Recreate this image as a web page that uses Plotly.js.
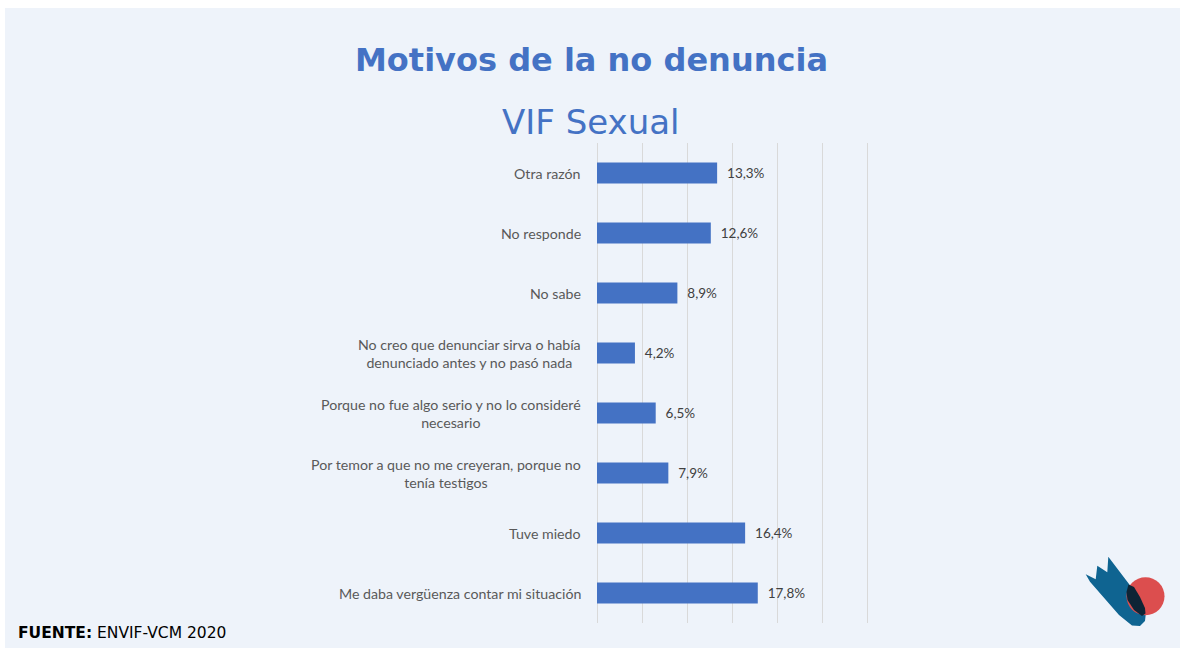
<!DOCTYPE html>
<html>
<head>
<meta charset="utf-8">
<script src="https://cdn.plot.ly/plotly-3.0.1.min.js"></script>
<style>
html,body{margin:0;padding:0;background:#fff;}
#chart{width:1181px;height:648px;}
</style>
</head>
<body>
<div id="chart"></div>
<script>
// Data (top to bottom as shown)
var categories = [
  "Otra razón",
  "No responde",
  "No sabe",
  "No creo que denunciar sirva o había<br>denunciado antes y no pasó nada",
  "Porque no fue algo serio y no lo consideré<br>necesario",
  "Por temor a que no me creyeran, porque no<br>tenía testigos",
  "Tuve miedo",
  "Me daba vergüenza contar mi situación"
];
var values = [13.3, 12.6, 8.9, 4.2, 6.5, 7.9, 16.4, 17.8];
var xTicks = [0, 5, 10, 15, 20, 25, 30];

var W = 1181, H = 648;
var PL = 597, PR = 877, PT = 143, PB = 623;
// convert page pixels to plot-area ("paper") fractions
function px(x){ return (x - PL) / (PR - PL); }
function py(y){ return (PB - y) / (PB - PT); }
function pathFrom(pts){
  return pts.map(function(p,i){ return (i===0?'M':'L') + px(p[0]).toFixed(5) + ',' + py(p[1]).toFixed(5); }).join(' ') + ' Z';
}

var trace = {
  type: 'bar',
  orientation: 'h',
  x: values,
  y: categories,
  width: 0.35,
  marker: {color: '#4472C4'},
  text: values,
  texttemplate: '\u00a0\u00a0%{x:.1f}%',
  textposition: 'outside',
  cliponaxis: false,
  textfont: {family: 'Lato, Carlito, sans-serif', size: 13.5, color: '#404040'},
  hoverinfo: 'none'
};

var annotations = [
  {text: '<b>Motivos de la no denuncia</b>', xref: 'paper', yref: 'paper', x: px(591), y: py(60), xanchor: 'center', yanchor: 'middle', showarrow: false,
   font: {family: 'DejaVu Sans, Verdana, sans-serif', size: 32, color: '#4472C4'}},
  {text: 'VIF Sexual', xref: 'paper', yref: 'paper', x: px(591), y: py(122), xanchor: 'center', yanchor: 'middle', showarrow: false,
   font: {family: 'DejaVu Sans, Verdana, sans-serif', size: 34, color: '#4472C4'}},
  {text: '<b>FUENTE:</b> ENVIF-VCM 2020', xref: 'paper', yref: 'paper', x: px(16), y: py(633), xanchor: 'left', yanchor: 'middle', showarrow: false,
   font: {family: 'DejaVu Sans, Verdana, sans-serif', size: 15.5, color: '#000000'}}
];
categories.forEach(function(c){
  annotations.push({
    text: c, xref: 'paper', yref: 'y', x: px(583), y: c, xanchor: 'right', yanchor: 'middle',
    align: 'center', showarrow: false,
    font: {family: 'Lato, Carlito, sans-serif', size: 14.2, color: '#595959'}
  });
});

var shapes = [
  {type: 'rect', xref: 'paper', yref: 'paper', x0: px(5), x1: px(1180), y0: py(648), y1: py(8), fillcolor: '#EEF3FA', line: {width: 0}, layer: 'below'},
  // logo
  {type: 'path', xref: 'paper', yref: 'paper', layer: 'above', line: {width: 0}, fillcolor: '#0F6491',
   path: pathFrom([[1085.7,574.3],[1095.7,579.3],[1097.3,565.7],[1107.3,572.3],[1108.3,556.7],[1129,584],[1146,612],[1145,621],[1140,626],[1132,625.5],[1119,615],[1090,581.7]])},
  {type: 'circle', xref: 'paper', yref: 'paper', layer: 'above', line: {width: 0}, fillcolor: '#DC4E4E',
   x0: px(1126.5), x1: px(1164.5), y0: py(615.2), y1: py(577.2)},
  {type: 'path', xref: 'paper', yref: 'paper', layer: 'above', line: {width: 0}, fillcolor: '#0E2435',
   path: pathFrom([[1128.5,584.5],[1134,587],[1140,597],[1145,608],[1145.5,613.5],[1142,616],[1134,610],[1127.5,600],[1126.5,592]])}
];

var layout = {
  width: W, height: H,
  paper_bgcolor: '#FFFFFF',
  plot_bgcolor: 'rgba(0,0,0,0)',
  separators: ',.',
  margin: {l: PL, r: W - PR, t: PT, b: H - PB, pad: 0},
  showlegend: false,
  bargap: 0.65,
  xaxis: {range: [0, 31], tickvals: xTicks, showticklabels: false, showgrid: true, gridcolor: '#D9D9D9', gridwidth: 1,
          zeroline: true, zerolinecolor: '#D9D9D9', zerolinewidth: 1, showline: false, fixedrange: true},
  yaxis: {autorange: 'reversed', showticklabels: false, showgrid: false, zeroline: false, showline: false, ticks: '', fixedrange: true},
  annotations: annotations,
  shapes: shapes
};

Plotly.newPlot('chart', [trace], layout, {displayModeBar: false, staticPlot: true});
</script>
</body>
</html>
